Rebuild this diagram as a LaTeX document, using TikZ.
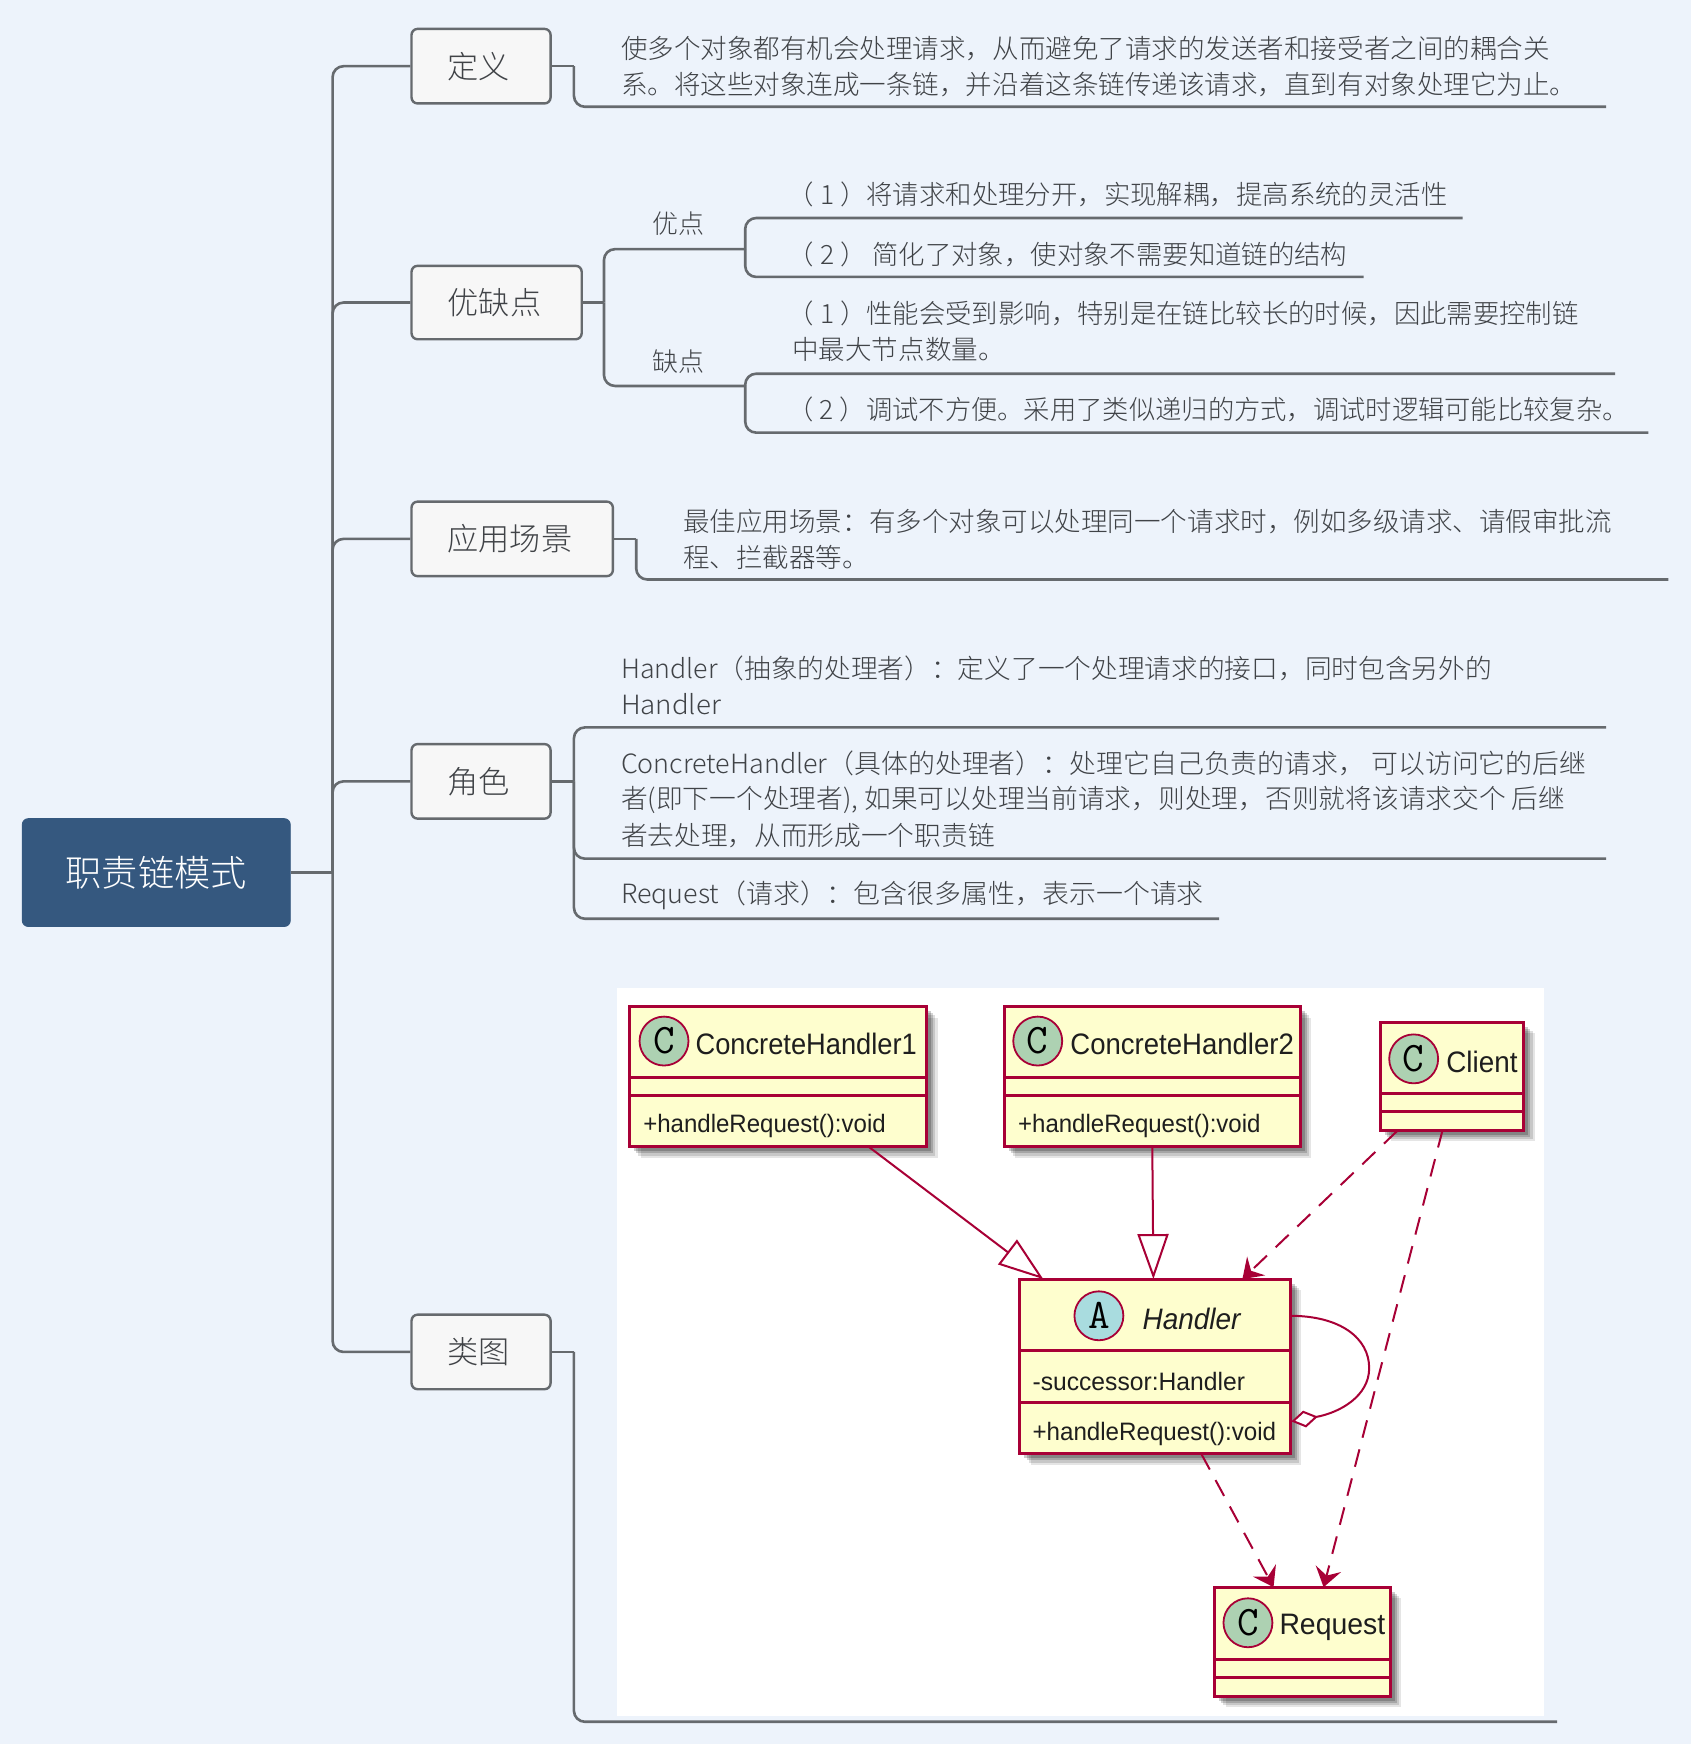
\documentclass[tikz,border=0pt]{standalone}
\usepackage{fontspec}
\usepackage{graphicx}
\usetikzlibrary{arrows.meta,calc}
\setmainfont{Noto Sans CJK SC}[UprightFont=* Light]
\newfontfamily\umlfont{Liberation Sans}
\def\un{0.55625pt}
\definecolor{pagebg}{HTML}{EDF3FB}
\definecolor{rootblue}{HTML}{35587F}
\definecolor{linkgray}{HTML}{666A6E}
\definecolor{textgray}{HTML}{404347}
\definecolor{topicfill}{HTML}{F7F7F7}
\definecolor{umlred}{HTML}{A80036}
\definecolor{umlfill}{HTML}{FEFECE}
\definecolor{spotc}{HTML}{ADD1B2}
\definecolor{spota}{HTML}{A9DCDF}
\definecolor{umlink}{HTML}{1E1E1E}
\tikzset{
  rootbox/.style={draw=rootblue,fill=rootblue,rounded corners=3pt,text=white,inner sep=0pt,font=\fontsize{18.1}{20}\selectfont},
  topic/.style={draw=linkgray,line width=1.2pt,fill=topicfill,rounded corners=3pt,text=textgray,inner sep=0pt,font=\fontsize{15.6}{18}\selectfont,execute at end node={\hspace{2.2pt}}},
  link/.style={draw=linkgray,line width=1.3pt,rounded corners=5.5pt},
  txt/.style={anchor=west,inner sep=0pt,text=textgray,font=\fontsize{13.27}{15}\selectfont},
  sublabel/.style={inner sep=0pt,text=textgray,font=\fontsize{13}{15}\selectfont},
  classbox/.style={draw=umlred,line width=1.5pt,fill=umlfill,inner sep=0pt},
  sep/.style={draw=umlred,line width=1.4pt},
  spot/.style={circle,draw=umlred,line width=.9pt,inner sep=0pt,minimum size=44*\un,font=\ttfamily\fontsize{21}{22}\selectfont,text=black},
  umltext/.style={anchor=west,inner sep=0pt,text=umlink},
  umlline/.style={draw=umlred,line width=1pt},
  umldash/.style={umlline,dash pattern=on 9pt off 6pt},
  gen/.style={umlline,-{Triangle[open,fill=white,length=22.5pt,width=15.5pt]}},
  dep/.style={umldash,-{Stealth[inset=3.5pt,length=9.5pt,width=13pt]}},
}
\newcommand{\classrect}[5]{%
  \pgfmathsetlengthmacro\cw{(#4-#2)*\un}\pgfmathsetlengthmacro\ch{(#5-#3)*\un}%
  \foreach \s/\o in {10/.1,8/.13,6/.17,4/.2}{\fill[black,opacity=\o] (#2+\s,#3+\s) rectangle (#4+\s,#5+\s);}%
  \node[classbox,minimum width=\cw,minimum height=\ch] (#1) at ({(#2+#4)/2},{(#3+#5)/2}) {};}
\newcommand{\umllabel}[6]{%
  \pgfmathsetlengthmacro\tw{#4*\un}%
  \node[umltext,font=\umlfont\fontsize{#5}{16}\selectfont] (#1) at (#2,#3) {\resizebox{\tw}{\height}{#6}};}
\newcommand{\txtline}[4]{\node[txt] (#1) at (#2,#3) {#4};}
\newcommand{\txtfit}[5]{%
  \pgfmathsetlengthmacro\tw{#4*\un}%
  \node[txt] (#1) at (#2,#3) {\resizebox{\tw}{\height}{#5}};}
\begin{document}
\begin{tikzpicture}[x=0.55625pt,y=-0.55625pt]
\fill[pagebg] (0,0) rectangle (1520,1568);
\useasboundingbox (0,0) rectangle (1520,1568);
% white panel
\fill[white] (555,888) rectangle (1388,1543);

% junction coordinates
\coordinate (trunk) at (299,784.5);
\coordinate (jdef) at (516,59.5);
\coordinate (edef) at (1444,96);
\coordinate (jpc) at (543,272);
\coordinate (kpro) at (670,224);
\coordinate (kcon) at (670,347);
\coordinate (epro1) at (1315,196);
\coordinate (epro2) at (1226,249);
\coordinate (econ1) at (1452,336);
\coordinate (econ2) at (1482,389);
\coordinate (japp) at (572,484.5);
\coordinate (eapp) at (1500,521);
\coordinate (jrole) at (516,702.5);
\coordinate (erole1) at (1444,654);
\coordinate (erole2) at (1444,772);
\coordinate (erole3) at (1096,826);
\coordinate (jcls) at (516,1215.5);
\coordinate (ecls) at (1400,1548);

% main topics
\node[rootbox,minimum width=241*\un,minimum height=97*\un] (root) at (140.5,784.5) {职责链模式};
\node[topic,minimum width=125*\un,minimum height=67*\un] (def) at (432.5,59.5) {定义};
\node[topic,minimum width=153*\un,minimum height=66*\un] (pc) at (446.5,272) {优缺点};
\node[topic,minimum width=181*\un,minimum height=67*\un] (app) at (460.5,484.5) {应用场景};
\node[topic,minimum width=125*\un,minimum height=67*\un] (role) at (432.5,702.5) {角色};
\node[topic,minimum width=125*\un,minimum height=67*\un] (cls) at (432.5,1215.5) {类图};

% trunk and branches
\draw[link] (root.east) -- (trunk);
\draw[link] (trunk) |- (def.west);
\draw[link] (trunk) |- (pc.west);
\draw[link] (trunk) |- (app.west);
\draw[link] (trunk) |- (role.west);
\draw[link] (trunk) |- (cls.west);
\draw[link] (def.east) -- (jdef);
\draw[link] (jdef) |- (edef);
\draw[link] (pc.east) -- (jpc);
\draw[link] (jpc) |- (kpro);
\draw[link] (jpc) |- (kcon);
\draw[link] (kpro) |- (epro1);
\draw[link] (kpro) |- (epro2);
\draw[link] (kcon) |- (econ1);
\draw[link] (kcon) |- (econ2);
\draw[link] (app.east) -- (japp);
\draw[link] (japp) |- (eapp);
\draw[link] (role.east) -- (jrole);
\draw[link] (jrole) |- (erole1);
\draw[link] (jrole) |- (erole2);
\draw[link] (jrole) |- (erole3);
\draw[link] (cls.east) -- (jcls);
\draw[link] (jcls) |- (ecls);

% branch labels
\node[sublabel] (lpro) at (610,201) {优点};
\node[sublabel] (lcon) at (610,325) {缺点};

% texts
\txtline{t1}{558}{44}{使多个对象都有机会处理请求，从而避免了请求的发送者和接受者之间的耦合关}
\txtline{t2}{558}{76}{系。将这些对象连成一条链，并沿着这条链传递该请求，直到有对象处理它为止。}
\txtfit{t3}{708}{175}{593}{（ 1 ）将请求和处理分开，实现解耦，提高系统的灵活性}
\txtfit{t4}{708}{229}{503}{（ 2 ） 简化了对象，使对象不需要知道链的结构}
\txtfit{t5}{708}{282}{711}{（ 1 ）性能会受到影响，特别是在链比较长的时候，因此需要控制链}
\txtline{t6}{712}{314}{中最大节点数量。}
\txtfit{t7}{708}{368}{756}{（ 2 ）调试不方便。采用了类似递归的方式，调试时逻辑可能比较复杂。}
\txtline{t8}{614}{469}{最佳应用场景：有多个对象可以处理同一个请求时，例如多级请求、请假审批流}
\txtline{t9}{614}{501}{程、拦截器等。}
\txtfit{t10}{558}{601}{783}{Handler（抽象的处理者）：定义了一个处理请求的接口，同时包含另外的}
\txtfit{t11}{558}{633}{90}{Handler}
\txtfit{t12}{558}{686}{868}{ConcreteHandler（具体的处理者）：处理它自己负责的请求， 可以访问它的后继}
\txtfit{t13}{558}{719}{849}{者(即下一个处理者), 如果可以处理当前请求，则处理，否则就将该请求交个 后继}
\txtfit{t14}{558}{751}{336}{者去处理，从而形成一个职责链}
\txtfit{t15}{558}{805}{524}{Request（请求）：包含很多属性，表示一个请求}

% UML classes
\classrect{ch1}{566}{905}{833}{1031}
\classrect{ch2}{903}{905}{1169}{1031}
\classrect{client}{1241}{919}{1370}{1016}
\classrect{handler}{917}{1150}{1160}{1307}
\classrect{request}{1092}{1427}{1250}{1525}
\draw[sep] (566,968.5) -- (833,968.5) (566,985) -- (833,985);
\draw[sep] (903,968.5) -- (1169,968.5) (903,985) -- (1169,985);
\draw[sep] (1241,983) -- (1370,983) (1241,999) -- (1370,999);
\draw[sep] (917,1214) -- (1160,1214) (917,1261) -- (1160,1261);
\draw[sep] (1092,1492) -- (1250,1492) (1092,1508) -- (1250,1508);

\node[spot,fill=spotc] (s1) at (597,936) {C};
\node[spot,fill=spotc] (s2) at (933,936) {C};
\node[spot,fill=spotc] (s3) at (1271,952) {C};
\node[spot,fill=spota] (s4) at (988,1183) {A};
\node[spot,fill=spotc] (s5) at (1122,1459) {C};

\umllabel{u1}{625}{939}{199}{14.8}{ConcreteHandler1}
\umllabel{u2}{578}{1012}{218}{12.6}{+handleRequest():void}
\umllabel{u3}{962}{939}{201}{14.8}{ConcreteHandler2}
\umllabel{u4}{915}{1012}{218}{12.6}{+handleRequest():void}
\umllabel{u5}{1300}{955}{64}{14.8}{Client}
\umllabel{u6}{1027}{1186}{88}{14.8}{\itshape Handler}
\umllabel{u7}{928}{1242}{191}{12.6}{-successor:Handler}
\umllabel{u8}{928}{1289}{219}{12.6}{+handleRequest():void}
\umllabel{u9}{1150}{1463}{95}{14.8}{Request}

% UML connectors
\coordinate (c1a) at (781,1031);
\coordinate (c1b) at (938,1150);
\coordinate (c2a) at (1036,1031);
\coordinate (c2b) at (1037,1150);
\coordinate (c3a) at (1256,1017);
\coordinate (c3b) at (1117,1150);
\coordinate (c4a) at (1297,1016);
\coordinate (c4b) at (1190,1427);
\coordinate (c5a) at (1080,1307);
\coordinate (c5b) at (1145,1427);
\coordinate (c6a) at (1160,1183);
\coordinate (c6m) at (1231,1230);
\coordinate (c6b) at (1161,1278);
\draw[gen] (c1a) -- (c1b);
\draw[gen] (c2a) -- (c2b);
\draw[dep] (c3a) -- (c3b);
\draw[dep] (c4a) -- (c4b);
\draw[dep] (c5a) -- (c5b);
\draw[umlline,-{Diamond[open,fill=white,length=13.5pt,width=8.5pt]}] (c6a) .. controls (1205,1183) and (1231,1203) .. (c6m) .. controls (1231,1255) and (1205,1270) .. (c6b);
\end{tikzpicture}
\end{document}
